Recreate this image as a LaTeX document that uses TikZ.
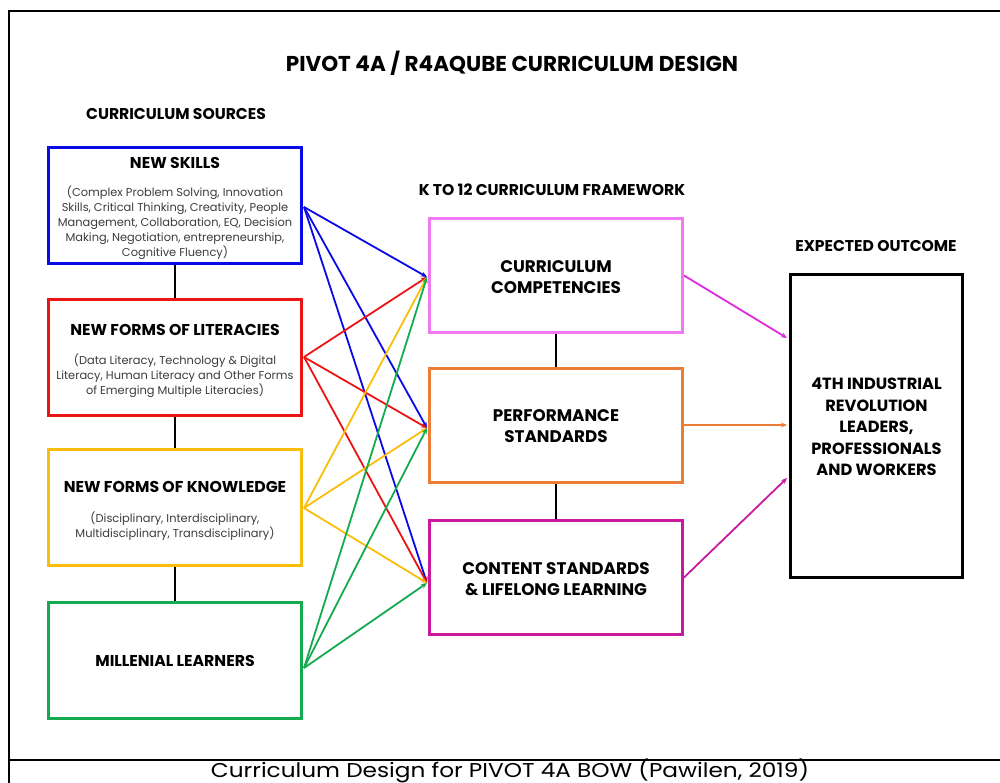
\documentclass[tikz,border=0pt]{standalone}
\usepackage{fontspec}
\setmainfont{Poppins}
\usetikzlibrary{arrows.meta}
\definecolor{cblue}{RGB}{10,10,230}
\definecolor{cred}{RGB}{235,20,20}
\definecolor{cyellow}{RGB}{250,190,10}
\definecolor{cgreen}{RGB}{20,170,80}
\definecolor{cviolet}{RGB}{240,120,240}
\definecolor{corange}{RGB}{235,125,55}
\definecolor{cmagenta}{RGB}{200,25,160}
\definecolor{cpinkarrow}{RGB}{225,40,225}
\definecolor{bodygray}{RGB}{60,60,60}
\tikzset{
  srcbox/.style={draw, line width=3pt, minimum width=253pt, minimum height=116pt, fill=white, inner sep=0pt},
  midbox/.style={draw, line width=3pt, minimum width=253pt, minimum height=114pt, fill=white, inner sep=0pt},
  outbox/.style={draw=black, line width=3pt, minimum width=172pt, minimum height=303pt, fill=white, inner sep=0pt},
  hdr/.style={font=\bfseries\fontsize{15.6}{17}\selectfont, inner sep=0pt},
  boxtitle/.style={font=\bfseries\fontsize{15.7}{17}\selectfont, inner sep=0pt},
  bodytxt/.style={font=\fontsize{11.4}{15}\selectfont, text=bodygray, align=center, inner sep=0pt},
  midtxt/.style={font=\bfseries\fontsize{16.8}{21.5}\selectfont, align=center, inner sep=0pt},
  link/.style={line width=1.8pt},
  arr/.style={line width=1.8pt, -{Stealth[length=6pt,width=5pt]}},
}
\begin{document}
\begin{tikzpicture}[x=1pt,y=-1pt]
\useasboundingbox (0,0) rectangle (1000,783);
% frame
\coordinate (ftl) at (9,11);
\coordinate (ftr) at (1002,11);
\coordinate (fbl) at (9,785);
\coordinate (fml) at (9,760);
\coordinate (fmr) at (1002,760);
\draw[line width=2pt] (ftr) -- (ftl) -- (fbl);
\draw[line width=2pt] (fml) -- (fmr);

\node[font=\bfseries\fontsize{21.5}{23}\selectfont, inner sep=0pt] (title) at (512,63) {PIVOT 4A / R4AQUBE CURRICULUM DESIGN};
\node[hdr] (hsrc) at (176,114) {CURRICULUM SOURCES};
\node[hdr] (hk12) at (552,190) {K TO 12 CURRICULUM FRAMEWORK};
\node[hdr] (hout) at (876,246) {EXPECTED OUTCOME};

% source boxes
\node[srcbox, draw=cblue] (ns) at (175,205.5) {};
\node[srcbox, draw=cred] (nl) at (175,357) {};
\node[srcbox, draw=cyellow] (nk) at (175,507) {};
\node[srcbox, draw=cgreen] (ml) at (175,660) {};

\node[boxtitle] (nst) at (175,163) {NEW SKILLS};
\node[bodytxt] (nsb) at (175,223) {(Complex Problem Solving, Innovation\\Skills, Critical Thinking, Creativity, People\\Management, Collaboration, EQ, Decision\\Making, Negotiation, entrepreneurship,\\Cognitive Fluency)};
\node[boxtitle] (nlt) at (175,330) {NEW FORMS OF LITERACIES};
\node[bodytxt] (nlb) at (175,376) {(Data Literacy, Technology \& Digital\\Literacy, Human Literacy and Other Forms\\of Emerging Multiple Literacies)};
\node[boxtitle] (nkt) at (175,487) {NEW FORMS OF KNOWLEDGE};
\node[bodytxt] (nkb) at (175,526) {(Disciplinary, Interdisciplinary,\\Multidisciplinary, Transdisciplinary)};
\node[boxtitle] (mlt) at (175,661) {MILLENIAL LEARNERS};

\draw[link] (ns.south) -- (nl.north);
\draw[link] (nl.south) -- (nk.north);
\draw[link] (nk.south) -- (ml.north);

% middle boxes
\node[midbox, draw=cviolet] (cc) at (556,275.5) {};
\node[midbox, draw=corange] (ps) at (556,425) {};
\node[midbox, draw=cmagenta] (cs) at (556,577.5) {};
\node[midtxt] (cct) at (556,277) {CURRICULUM\\COMPETENCIES};
\node[midtxt] (pst) at (556,426) {PERFORMANCE\\STANDARDS};
\node[midtxt] (cst) at (556,579) {CONTENT STANDARDS\\\& LIFELONG LEARNING};

\draw[link] (cc.south) -- (ps.north);
\draw[link] (ps.south) -- (cs.north);

% outcome
\node[outbox] (out) at (876.5,426) {};
\node[midtxt, font=\bfseries\fontsize{16.2}{21.5}\selectfont] (outt) at (876.5,427) {4TH INDUSTRIAL\\REVOLUTION\\LEADERS,\\PROFESSIONALS\\AND WORKERS};

% targets
\coordinate (tcc) at (427,277);
\coordinate (tps) at (427,428);
\coordinate (tcs) at (427,583);
\coordinate (sns) at (304,207);
\coordinate (snl) at (304,357);
\coordinate (snk) at (304,508);
\coordinate (sml) at (304,668);

\foreach \s/\c in {sns/cblue, snl/cred, snk/cyellow, sml/cgreen}{
  \foreach \t in {tcc,tps,tcs}{
    \draw[arr, draw=\c, fill=\c] (\s) -- (\t);
  }
}

\coordinate (occ) at (787,338);
\coordinate (ops) at (787,425);
\coordinate (ocs) at (787,478);
\draw[arr, draw=cpinkarrow] (cc.east) -- (occ);
\draw[arr, draw=corange] (ps.east) -- (ops);
\draw[arr, draw=cmagenta] (cs.east) -- (ocs);

\node[font=\fontsize{20}{21}\selectfont, inner sep=0pt, anchor=base] (cap) at (510,777) {\scalebox{1.16}[1]{Curriculum Design for PIVOT 4A BOW (Pawilen, 2019)}};
\end{tikzpicture}
\end{document}
